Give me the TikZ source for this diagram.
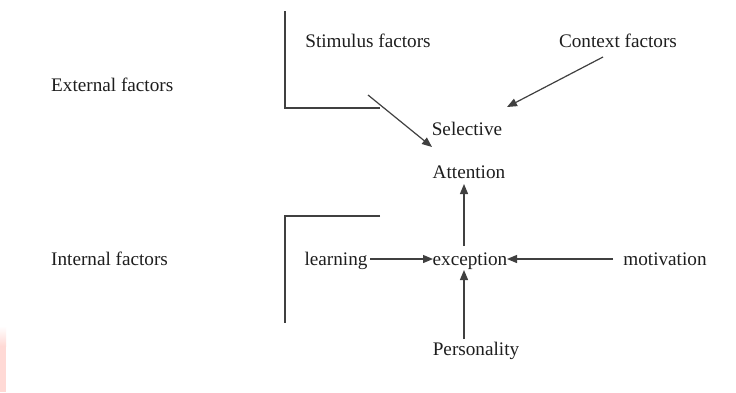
\documentclass[tikz,border=0pt]{standalone}
\usepackage{fontspec}
\setmainfont{Liberation Serif}
\usetikzlibrary{arrows.meta}
\definecolor{inkline}{HTML}{404040}
\definecolor{inktext}{HTML}{1E1E1E}
\definecolor{blush}{HTML}{FFD9D5}
\begin{document}
\begin{tikzpicture}[x=1pt,y=-1pt,
  lbl/.style={inner sep=0pt,anchor=base,text=inktext,font=\fontsize{19.2}{21}\selectfont},
  lbllft/.style={lbl,anchor=base west},
  frame/.style={draw=inkline,line width=1.4pt},
  link/.style={draw=inkline,line width=1.2pt,-{Triangle[length=10pt,width=8pt]}}]
\useasboundingbox (0,0) rectangle (736,392);
\fill[white] (0,0) rectangle (736,392);

% faint mark at the lower left edge
\shade[top color=white,bottom color=blush] (0,326) rectangle (6,346);
\fill[blush] (0,346) rectangle (6,392);

% labels
\node[lbllft] (ext) at (51,91) {External factors};
\node[lbllft] (int) at (51,265) {Internal factors};
\node[lbl] (stim) at (368,47) {Stimulus factors};
\node[lbl] (ctx) at (618,47) {Context factors};
\node[lbl] (sel) at (467,135) {Selective};
\node[lbl] (att) at (469,178) {Attention};
\node[lbl] (learn) at (336,265) {learning};
\node[lbl] (exc) at (470,265) {exception};
\node[lbl] (mot) at (665,265) {motivation};
\node[lbl] (pers) at (476,355) {Personality};

% brackets
\draw[frame] (285,11) -- (285,108) -- (380,108);
\draw[frame] (380,216) -- (285,216) -- (285,323);

% arrow end points
\coordinate (stimA) at (368,95);
\coordinate (stimB) at (432,147);
\coordinate (ctxA) at (603,57);
\coordinate (ctxB) at (507,107);
\coordinate (excTop) at (464,246);
\coordinate (attBot) at (464,184);
\coordinate (persTop) at (464,339);
\coordinate (excBot) at (464,270);
\coordinate (learnR) at (370,259);
\coordinate (excL) at (433,259);
\coordinate (motL) at (613,259);
\coordinate (excR) at (507,259);

% connectors
\draw[link] (stimA) -- (stimB);
\draw[link] (ctxA) -- (ctxB);
\draw[link] (excTop) -- (attBot);
\draw[link] (persTop) -- (excBot);
\draw[link] (learnR) -- (excL);
\draw[link] (motL) -- (excR);
\end{tikzpicture}
\end{document}
